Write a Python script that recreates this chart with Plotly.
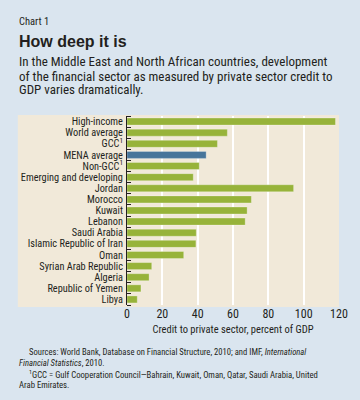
import plotly.graph_objects as go

categories = ["High-income", "World average", "GCC<sup>1</sup>", "MENA average", "Non-GCC<sup>1</sup>",
              "Emerging and developing", "Jordan", "Morocco", "Kuwait", "Lebanon", "Saudi Arabia",
              "Islamic Republic of Iran", "Oman", "Syrian Arab Republic", "Algeria",
              "Republic of Yemen", "Libya"]
values = [118, 56.8, 51.2, 44.8, 40.9, 37.5, 94.3, 70.4, 68.0, 66.9, 39.2, 39.0, 32.1, 14.0, 12.5, 7.9, 5.8]
highlight = "MENA average"
x_ticks = [0, 20, 40, 60, 80, 100, 120]

GREEN = "#97b33a"
BLUE = "#47759a"
BG = "#dae5ef"
BEIGE = "#f1e9d9"
FONT = "Roboto Condensed, DejaVu Sans Condensed, Liberation Sans, sans-serif"

W, H = 360, 400
L, R, T, B = 127.3, 341.5, 116, 305

def px(x):
    return (x - L) / (R - L)

def py(y):
    return (B - y) / (B - T)

colors = [BLUE if c == highlight else GREEN for c in categories]
ypos = list(range(len(categories)))

fig = go.Figure(go.Bar(
    x=values, y=ypos, orientation="h",
    marker=dict(color=colors, line=dict(color="rgba(255,255,255,0.35)", width=0.8)),
    width=0.63,
))

fig.update_layout(
    width=W, height=H,
    margin=dict(l=L, r=W - R, t=T, b=H - B),
    paper_bgcolor=BG, plot_bgcolor="rgba(0,0,0,0)",
    showlegend=False,
    font=dict(family=FONT, color="#231f20", size=11),
)
fig.update_xaxes(range=[0, 120], tickvals=x_ticks, showgrid=True, gridcolor="white", gridwidth=1.8,
                 zeroline=False, showline=False, ticks="", tickfont=dict(size=12, family=FONT),
                 title=dict(text="Credit to private sector, percent of GDP", font=dict(size=10.5, family=FONT), standoff=5))
fig.update_yaxes(range=[len(categories) - 0.5, -0.5], tickvals=ypos, ticktext=categories,
                 showline=True, linecolor="#231f20", linewidth=1,
                 ticks="", tickfont=dict(size=10.3, family=FONT), showgrid=False, ticklabelstandoff=1,
                 minor=dict(tickvals=[i - 0.5 for i in range(len(categories) + 1)], ticks="inside",
                            ticklen=4, tickcolor="#231f20", tickwidth=1))

fig.add_shape(type="rect", xref="paper", yref="paper", x0=px(17), x1=px(341.5), y0=py(307), y1=py(115),
              fillcolor=BEIGE, line=dict(width=0), layer="below")

def text(x, y, s, size, family=FONT):
    fig.add_annotation(xref="paper", yref="paper", x=px(x), y=py(y), text=s, showarrow=False,
                       xanchor="left", yanchor="middle", align="left",
                       font=dict(size=size, family=family, color="#231f20"))

text(16, 22, "Chart 1", 10.5)
text(16, 41, "<b>How deep it is</b>", 16, family="Liberation Sans")
text(16, 62, "In the Middle East and North African countries, development", 13)
text(16, 76, "of the financial sector as measured by private sector credit to", 13)
text(16, 90, "GDP varies dramatically.", 13)
text(26, 352, "Sources: World Bank, Database on Financial Structure, 2010; and IMF, <i>International</i>", 8.6)
text(16, 363, "<i>Financial Statistics</i>, 2010.", 8.6)
text(26, 374, "<sup>1</sup>GCC = Gulf Cooperation Council\u2014Bahrain, Kuwait, Oman, Qatar, Saudi Arabia, United", 8.7)
text(16, 385, "Arab Emirates.", 8.7)

fig.write_html("out.html", config={"displayModeBar": False},
               post_script="document.body.style.margin='0';document.body.style.overflow='hidden';")
